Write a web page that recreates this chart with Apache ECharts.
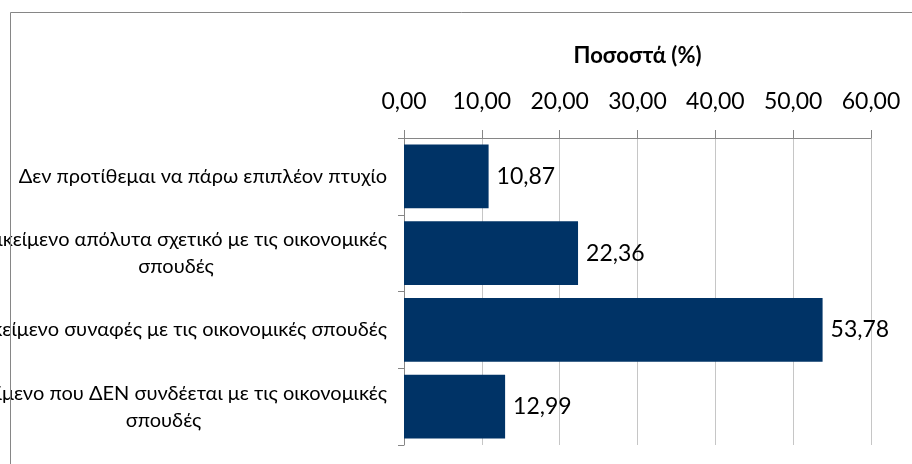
<!DOCTYPE html>
<html lang="el">
  <head>
    <meta charset="UTF-8" />
    <title>Ποσοστά</title>
    <script src="https://cdn.jsdelivr.net/npm/echarts@6/dist/echarts.min.js"></script>
    <style>
      body { margin: 0; background: #fff; }
    </style>
  </head>
  <body>
    <div id="main" style="width: 912px; height: 464px"></div>
    <script type="text/javascript">
      // data
      let categories = [
        "Δεν προτίθεμαι να πάρω επιπλέον πτυχίο",
        "Αντικείμενο απόλυτα σχετικό με τις οικονομικές\nσπουδές",
        "Αντικείμενο συναφές με τις οικονομικές σπουδές",
        "Αντικείμενο που ΔΕΝ συνδέεται με τις οικονομικές\nσπουδές",
      ]
      let values = [10.87, 22.36, 53.78, 12.99]
      let axisTitle = "Ποσοστά (%)"

      let font = "Lato, 'Noto Sans', sans-serif"
      let comma = (v) => Number(v).toFixed(2).replace(".", ",")

      let myChart = echarts.init(document.getElementById("main"))

      let options = {
        animation: false,
        grid: { left: 404, right: 41, top: 138, bottom: 19, outerBoundsMode: "none", containLabel: false },
        xAxis: {
          type: "value",
          position: "top",
          min: 0,
          max: 60,
          interval: 10,
          name: axisTitle,
          nameLocation: "middle",
          nameGap: 71,
          nameTextStyle: { fontFamily: font, fontSize: 22, fontWeight: "bold", color: "#000" },
          axisLine: { show: true, lineStyle: { color: "#868686", width: 1 } },
          axisTick: { show: true, length: 8, lineStyle: { color: "#868686" } },
          axisLabel: {
            margin: 25,
            fontFamily: font,
            fontSize: 23,
            color: "#000",
            formatter: comma,
          },
          splitLine: { show: true, lineStyle: { color: "#c6c6c6", width: 1 } },
        },
        yAxis: {
          type: "category",
          data: categories,
          inverse: true,
          axisLine: { show: true, lineStyle: { color: "#868686", width: 1 } },
          axisTick: { show: true, length: 6, lineStyle: { color: "#868686" } },
          axisLabel: {
            margin: 17,
            fontFamily: font,
            fontSize: 20,
            color: "#000",
            formatter: (v) => v.split("\n").map((s) => "{c|" + s + "}").join("\n"),
            rich: { c: { align: "center", fontFamily: font, fontSize: 20, lineHeight: 27, color: "#000" } },
          },
        },
        series: [
          {
            type: "bar",
            data: values,
            barCategoryGap: "17%",
            itemStyle: { color: "#003366" },
            label: {
              show: true,
              position: "right",
              distance: 8,
              fontFamily: font,
              fontSize: 23,
              color: "#000",
              formatter: (p) => comma(p.value),
            },
          },
        ],
        graphic: [
          {
            type: "rect",
            z: 100,
            silent: true,
            shape: { x: 10.5, y: 12.5, width: 1200, height: 1200 },
            style: { fill: null, stroke: "#868686", lineWidth: 1 },
          },
        ],
      }

      myChart.setOption(options)
    </script>
  </body>
</html>
